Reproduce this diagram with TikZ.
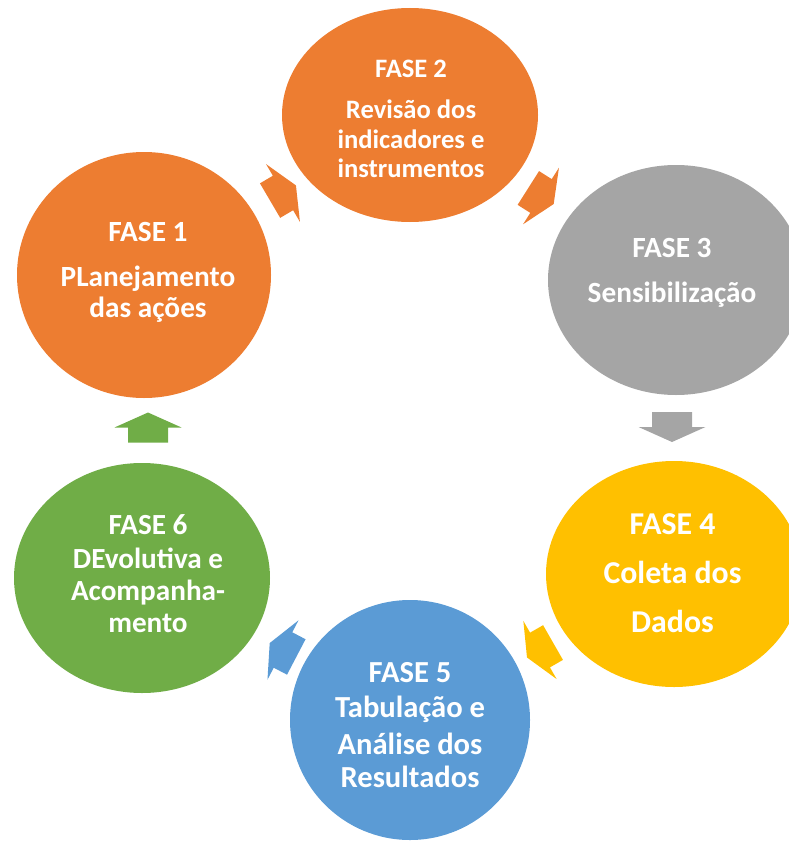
\documentclass[tikz,border=0pt]{standalone}
\usepackage{fontspec}
\setmainfont{Carlito}
\usetikzlibrary{shapes.geometric}
\definecolor{corange}{HTML}{ED7D31}
\definecolor{cgray}{HTML}{A5A5A5}
\definecolor{cyellow}{HTML}{FFC000}
\definecolor{cblue}{HTML}{5B9BD5}
\definecolor{cgreen}{HTML}{70AD47}
\tikzset{
  phase/.style={ellipse, inner sep=0pt, outer sep=0pt, draw=none},
  lbl/.style={anchor=base, inner sep=0pt, text=white},
  pics/blockarrow/.style={code={
    \fill[#1] (-15,-20) -- (0,-20) -- (0,-33.5) -- (15,0) -- (0,33.5) -- (0,20) -- (-15,20) -- cycle;}}
}
\newcommand{\fs}[1]{\fontsize{#1}{#1}\selectfont\bfseries}
\begin{document}
\begin{tikzpicture}[x=1pt,y=-1pt]
\useasboundingbox (0,0) rectangle (789,848);
\clip (0,0) rectangle (789,848);
% circles
\node[phase, fill=corange, minimum width=254pt, minimum height=246pt] (c1) at (144,275) {};
\node[phase, fill=corange, minimum width=256pt, minimum height=214pt] (c2) at (410,115) {};
\node[phase, fill=cgray,   minimum width=256pt, minimum height=230pt] (c3) at (676,280) {};
\node[phase, fill=cyellow, minimum width=256pt, minimum height=226pt] (c4) at (674,574) {};
\node[phase, fill=cblue,   minimum width=240pt, minimum height=240pt] (c5) at (410,720) {};
\node[phase, fill=cgreen,  minimum width=256pt, minimum height=230pt] (c6) at (142,578) {};
% block arrows
\pic[rotate=30.4]   at (283,193) {blockarrow=corange};
\pic[rotate=-32.4]  at (541,196) {blockarrow=corange};
\pic[rotate=-90]    at (672,427) {blockarrow=cgray};
\pic[rotate=-150.2] at (540,650) {blockarrow=cyellow};
\pic[rotate=152.4]  at (283,650) {blockarrow=cblue};
\pic[rotate=90]     at (148,427.5) {blockarrow=cgreen};
% texts
\node[lbl, font=\fs{29.3}] (t1a) at (148,241) {FASE 1};
\node[lbl, font=\fs{29.3}] (t1b) at (148,286) {PLanejamento};
\node[lbl, font=\fs{29.3}] (t1c) at (148,317) {das ações};
\node[lbl, font=\fs{26.6}] (t2a) at (411,78) {FASE 2};
\node[lbl, font=\fs{26.6}] (t2b) at (411,119) {Revisão dos};
\node[lbl, font=\fs{26.6}] (t2c) at (411,148) {indicadores e};
\node[lbl, font=\fs{26.6}] (t2d) at (411,177) {instrumentos};
\node[lbl, font=\fs{29.3}] (t3a) at (672,257) {FASE 3};
\node[lbl, font=\fs{29.3}] (t3b) at (672,302) {Sensibilização};
\node[lbl, font=\fs{31.8}] (t4a) at (672.5,534) {FASE 4};
\node[lbl, font=\fs{31.8}] (t4b) at (672.5,583) {Coleta dos};
\node[lbl, font=\fs{31.8}] (t4c) at (672.5,632) {Dados};
\node[lbl, font=\fs{30.6}] (t5a) at (410,682) {FASE 5};
\node[lbl, font=\fs{30.6}] (t5b) at (410,717) {Tabulação e};
\node[lbl, font=\fs{30.6}] (t5c) at (410,754) {Análise dos};
\node[lbl, font=\fs{30.6}] (t5d) at (410,787) {Resultados};
\node[lbl, font=\fs{29.2}] (t6a) at (148,534) {FASE 6};
\node[lbl, font=\fs{29.2}] (t6b) at (148,568) {DEvolutiva e};
\node[lbl, font=\fs{29.2}] (t6c) at (148,600) {Acompanha-};
\node[lbl, font=\fs{29.2}] (t6d) at (148,632) {mento};
\end{tikzpicture}
\end{document}
